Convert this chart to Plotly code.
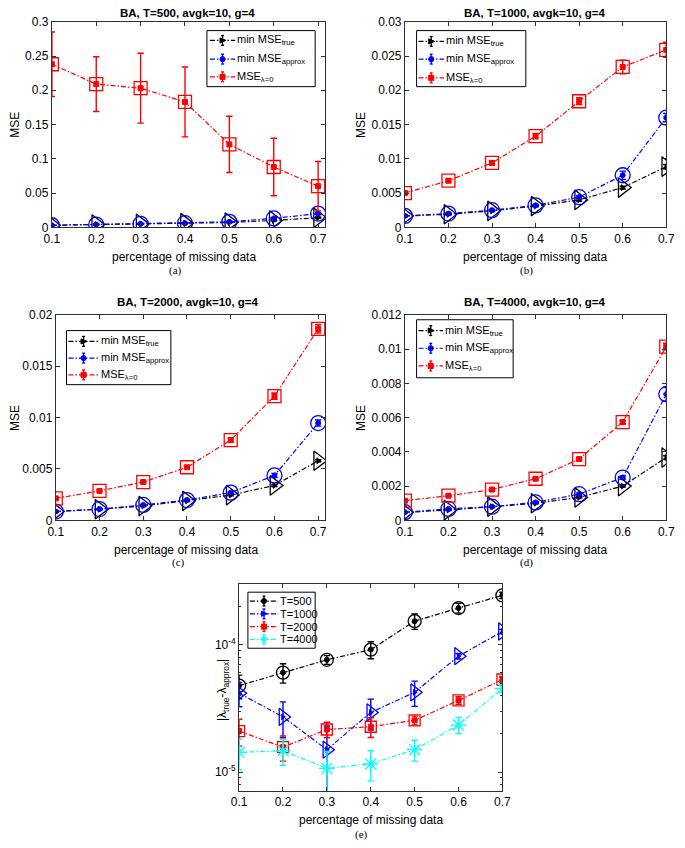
import plotly.graph_objects as go

W, H = 685, 848

x_vals = [0.1, 0.2, 0.3, 0.4, 0.5, 0.6, 0.7]
x_ticktext = ["0.1", "0.2", "0.3", "0.4", "0.5", "0.6", "0.7"]

# (a) T=500
a_true = [0.003, 0.004, 0.005, 0.006, 0.007, 0.010, 0.014]
a_true_err = [0.0004, 0.0004, 0.0005, 0.0005, 0.0006, 0.0008, 0.0010]
a_approx = [0.003, 0.004, 0.005, 0.006, 0.008, 0.013, 0.020]
a_approx_err = [0.0004, 0.0004, 0.0005, 0.0006, 0.0008, 0.0010, 0.0015]
a_l0 = [0.238, 0.209, 0.203, 0.183, 0.121, 0.088, 0.060]
a_l0_err = [0.047, 0.040, 0.051, 0.051, 0.041, 0.042, 0.036]
a_yticks = [0, 0.05, 0.1, 0.15, 0.2, 0.25, 0.3]

# (b) T=1000
b_true = [0.00165, 0.0019, 0.0024, 0.0031, 0.0040, 0.0058, 0.00885]
b_true_err = [0.0001, 0.0001, 0.0001, 0.0001, 0.0002, 0.0002, 0.0003]
b_approx = [0.00167, 0.0020, 0.0025, 0.0032, 0.0044, 0.0076, 0.0160]
b_approx_err = [0.0001, 0.0001, 0.0001, 0.0001, 0.0002, 0.0006, 0.0006]
b_l0 = [0.0050, 0.0068, 0.0094, 0.0133, 0.0184, 0.0234, 0.0259]
b_l0_err = [0.0002, 0.0002, 0.0003, 0.0004, 0.0005, 0.0010, 0.0011]
b_yticks = [0, 0.005, 0.01, 0.015, 0.02, 0.025, 0.03]

# (c) T=2000
c_true = [0.00086, 0.00108, 0.0014, 0.0019, 0.00246, 0.0034, 0.0058]
c_true_err = [0.00004, 0.00004, 0.00005, 0.00006, 0.00008, 0.0001, 0.0001]
c_approx = [0.00086, 0.0011, 0.0015, 0.00198, 0.0027, 0.00437, 0.00947]
c_approx_err = [0.00005, 0.00005, 0.00005, 0.00008, 0.0001, 0.0002, 0.0003]
c_l0 = [0.00214, 0.00287, 0.00373, 0.00517, 0.00781, 0.01209, 0.01863]
c_l0_err = [0.0001, 0.0001, 0.0001, 0.0001, 0.0002, 0.0003, 0.0004]
c_yticks = [0, 0.005, 0.01, 0.015, 0.02]

# (d) T=4000
d_true = [0.00047, 0.0006, 0.0008, 0.0010, 0.00134, 0.0020, 0.00367]
d_true_err = [0.00002, 0.00002, 0.00003, 0.00003, 0.00004, 0.00005, 0.0001]
d_approx = [0.00048, 0.00067, 0.0008, 0.00105, 0.00153, 0.0025, 0.00737]
d_approx_err = [0.00002, 0.00003, 0.00003, 0.00004, 0.00006, 0.0001, 0.0004]
d_l0 = [0.00115, 0.00144, 0.0018, 0.00243, 0.00358, 0.00574, 0.01014]
d_l0_err = [0.00004, 0.00005, 0.00005, 0.00006, 0.00008, 0.0001, 0.0002]
d_yticks = [0, 0.002, 0.004, 0.006, 0.008, 0.01, 0.012]

# (e) |lambda_true - lambda_approx|
e_500 = [4.77e-5, 6.04e-5, 7.61e-5, 9.15e-5, 1.53e-4, 1.94e-4, 2.44e-4]
e_500_err = [1.0e-5, 1.05e-5, 6e-6, 1.4e-5, 2.1e-5, 1.7e-5, 1.4e-5]
e_1000 = [4.16e-5, 2.71e-5, 1.50e-5, 2.94e-5, 4.23e-5, 8.13e-5, 1.27e-4]
e_1000_err = [9e-6, 8.5e-6, 8e-6, 8e-6, 9.5e-6, 4e-6, 5e-6]
e_2000 = [2.10e-5, 1.57e-5, 2.16e-5, 2.27e-5, 2.55e-5, 3.65e-5, 5.33e-5]
e_2000_err = [5e-6, 3.5e-6, 3e-6, 4e-6, 2e-6, 2.5e-6, 3e-6]
e_4000 = [1.43e-5, 1.47e-5, 1.07e-5, 1.16e-5, 1.50e-5, 2.34e-5, 4.54e-5]
e_4000_err = [3.9e-6, 3.4e-6, 3.8e-6, 3.1e-6, 2.8e-6, 3.4e-6, 3e-6]
e_yticks = [1e-5, 1e-4]
e_yticktext = ["10<sup>-5</sup>", "10<sup>-4</sup>"]
e_minor = [m * 10 ** p for p in (-6, -5, -4) for m in range(2, 10)]

mse_names = ["min MSE<sub>true</sub>", "min MSE<sub>approx</sub>", "MSE<sub>λ=0</sub>"]
e_names = ["T=500", "T=1000", "T=2000", "T=4000"]

SANS = "Liberation Sans, Arial, sans-serif"
SERIF = "Liberation Serif, Times New Roman, serif"
AXC = "#303030"
DASH = "5px,2px,1.5px,2px"
BLACK, BLUE, RED, CYAN = "#000000", "#0000FF", "#FF0000", "#00FFFF"

fig = go.Figure()


def px_x(p):
    return p / W


def px_y(p):
    return 1 - p / H


def add_series(idx, y, err, color, small_sym, big_sym, big_size, name):
    xa = "x" if idx == 1 else f"x{idx}"
    ya = "y" if idx == 1 else f"y{idx}"
    fig.add_trace(go.Scatter(
        x=x_vals, y=y, xaxis=xa, yaxis=ya, mode="lines+markers", name=name,
        showlegend=False,
        line=dict(color=color, width=1.2, dash=DASH),
        marker=dict(symbol=small_sym, size=5, color=color,
                    line=dict(color=color, width=1)),
        error_y=dict(type="data", array=err, visible=True, color=color,
                     thickness=1.4, width=3.2),
    ))
    fig.add_trace(go.Scatter(
        x=x_vals, y=y, xaxis=xa, yaxis=ya, mode="markers", showlegend=False,
        marker=dict(symbol=big_sym, size=big_size, color=color,
                    line=dict(color=color, width=1.3)),
        hoverinfo="skip",
    ))


panels = [
    (1, a_true, a_true_err, a_approx, a_approx_err, a_l0, a_l0_err),
    (2, b_true, b_true_err, b_approx, b_approx_err, b_l0, b_l0_err),
    (3, c_true, c_true_err, c_approx, c_approx_err, c_l0, c_l0_err),
    (4, d_true, d_true_err, d_approx, d_approx_err, d_l0, d_l0_err),
]
for idx, yt, et, ya_, ea, yl, el in panels:
    add_series(idx, yt, et, BLACK, "triangle-right", "triangle-right-open", 17, mse_names[0])
    add_series(idx, ya_, ea, BLUE, "circle", "circle-open", 15, mse_names[1])
    add_series(idx, yl, el, RED, "square", "square-open", 13, mse_names[2])

add_series(5, e_500, e_500_err, BLACK, "circle", "circle-open", 13, e_names[0])
add_series(5, e_1000, e_1000_err, BLUE, "triangle-right", "triangle-right-open", 15, e_names[1])
add_series(5, e_2000, e_2000_err, RED, "square", "square-open", 11, e_names[2])
add_series(5, e_4000, e_4000_err, CYAN, "asterisk-open", "asterisk-open", 13, e_names[3])

# axis pixel boxes: (left, right, top, bottom)
boxes = {
    1: (45, 325, 15, 224),
    2: (407, 675, 15, 224),
    3: (49, 325, 313, 522),
    4: (407, 675, 313, 522),
    5: (237, 507, 587, 797),
}
xranges = {1: [0.1, 0.7154], 2: [0.1, 0.7], 3: [0.1, 0.7154], 4: [0.1, 0.7], 5: [0.1, 0.7]}
yinfo = {
    1: ([0, 0.3], a_yticks),
    2: ([0, 0.03], b_yticks),
    3: ([0, 0.02], c_yticks),
    4: ([0, 0.012], d_yticks),
}

layout = {}
for idx, (l, r, t, b) in boxes.items():
    xk = "xaxis" if idx == 1 else f"xaxis{idx}"
    yk = "yaxis" if idx == 1 else f"yaxis{idx}"
    ya_name = "y" if idx == 1 else f"y{idx}"
    xa_name = "x" if idx == 1 else f"x{idx}"
    common = dict(showline=True, linecolor=AXC, linewidth=1, mirror="ticks",
                  ticks="inside", ticklen=4, tickcolor=AXC, showgrid=False,
                  zeroline=False, tickfont=dict(family=SANS, size=12, color="#000"))
    layout[xk] = dict(domain=[px_x(l), px_x(r)], range=xranges[idx], anchor=ya_name,
                      tickvals=x_vals, ticktext=x_ticktext, **common)
    if idx in yinfo:
        rng, tv = yinfo[idx]
        layout[yk] = dict(domain=[px_y(b), px_y(t)], range=rng, anchor=xa_name,
                          tickvals=tv, ticktext=[f"{v:g}" for v in tv], **common)
    else:
        layout[yk] = dict(domain=[px_y(b), px_y(t)], type="log",
                          range=[-5.147, -3.526], anchor=xa_name,
                          tickvals=e_yticks, ticktext=e_yticktext,
                          minor=dict(tickvals=e_minor, ticks="inside", ticklen=2,
                                     tickcolor=AXC),
                          **common)

annotations = []
shapes = []


def ann(text, xp, yp, size=12, family=SANS, angle=0, xanchor="center"):
    annotations.append(dict(text=text, x=px_x(xp), y=px_y(yp), xref="paper", yref="paper",
                            xanchor=xanchor, yanchor="middle", showarrow=False,
                            textangle=angle, font=dict(family=family, size=size, color="#000")))


def pline(x0, y0, x1, y1, color, width=1.2, dash=None):
    ln = dict(color=color, width=width)
    if dash:
        ln["dash"] = dash
    shapes.append(dict(type="line", xref="paper", yref="paper",
                       x0=px_x(x0), y0=px_y(y0), x1=px_x(x1), y1=px_y(y1), line=ln))


def glyph(kind, cx, cy, color, r=2.6):
    if kind == "circle":
        shapes.append(dict(type="circle", xref="paper", yref="paper",
                           x0=px_x(cx - r), x1=px_x(cx + r), y0=px_y(cy + r), y1=px_y(cy - r),
                           fillcolor=color, line=dict(color=color, width=1)))
    elif kind == "square":
        shapes.append(dict(type="rect", xref="paper", yref="paper",
                           x0=px_x(cx - r), x1=px_x(cx + r), y0=px_y(cy + r), y1=px_y(cy - r),
                           fillcolor=color, line=dict(color=color, width=1)))
    elif kind == "tri":
        path = (f"M {px_x(cx - r)} {px_y(cy - r)} L {px_x(cx + r + 1)} {px_y(cy)} "
                f"L {px_x(cx - r)} {px_y(cy + r)} Z")
        shapes.append(dict(type="path", xref="paper", yref="paper", path=path,
                           fillcolor=color, line=dict(color=color, width=1)))
    elif kind == "star":
        pline(cx - r - 1, cy, cx + r + 1, cy, color, 1.2)
        pline(cx, cy - r - 1, cx, cy + r + 1, color, 1.2)
        pline(cx - r, cy - r, cx + r, cy + r, color, 1.2)
        pline(cx - r, cy + r, cx + r, cy - r, color, 1.2)


def draw_legend(box, rows, sx0, sx1, tx, items):
    x0, y0, x1, y1 = box
    shapes.append(dict(type="rect", xref="paper", yref="paper",
                       x0=px_x(x0), x1=px_x(x1), y0=px_y(y1), y1=px_y(y0),
                       fillcolor="white", line=dict(color="#000", width=1)))
    mx = (sx0 + sx1) / 2
    for cy, (name, color, kind) in zip(rows, items):
        pline(sx0, cy, sx1, cy, color, 1.2, DASH)
        pline(mx, cy - 5, mx, cy + 5, color, 1.3)
        pline(mx - 1.5, cy - 5, mx + 1.5, cy - 5, color, 1.3)
        pline(mx - 1.5, cy + 5, mx + 1.5, cy + 5, color, 1.3)
        glyph(kind, mx, cy, color)
        ann(name, tx, cy, size=11, xanchor="left")


mse_items = list(zip(mse_names, [BLACK, BLUE, RED], ["tri", "circle", "square"]))
e_items = list(zip(e_names, [BLACK, BLUE, RED, CYAN], ["circle", "tri", "square", "star"]))

draw_legend((204, 24, 315, 81), [34, 53, 71], 207, 233, 233, mse_items)
draw_legend((419, 24, 531, 81), [35, 53, 72], 421, 447, 447, mse_items)
draw_legend((60, 329, 167, 384), [340, 357, 374], 62, 93, 93, mse_items)
draw_legend((419, 318, 518, 377), [329, 347, 365], 421, 446, 446, mse_items)
draw_legend((246, 595, 315, 652), [604, 617, 630, 643], 248, 277, 277, e_items)

# titles
ann("<b>BA, T=500, avgk=10, g=4</b>", 184, 6, size=11.5)
ann("<b>BA, T=1000, avgk=10, g=4</b>", 540, 6, size=11.5)
ann("<b>BA, T=2000, avgk=10, g=4</b>", 185, 300, size=11.5)
ann("<b>BA, T=4000, avgk=10, g=4</b>", 540, 300, size=11.5)
# x titles
ann("percentage of missing data", 180, 254)
ann("percentage of missing data", 540, 254)
ann("percentage of missing data", 183, 552)
ann("percentage of missing data", 540, 552)
ann("percentage of missing data", 372, 827)
# panel labels
ann("(a)", 172, 268, size=11, family=SERIF)
ann("(b)", 532, 268, size=11, family=SERIF)
ann("(c)", 175, 565, size=11, family=SERIF)
ann("(d)", 532, 565, size=11, family=SERIF)
ann("(e)", 363, 841, size=11, family=SERIF)
# y titles
ann("MSE", 7, 120, angle=-90)
ann("MSE", 362, 120, angle=-90)
ann("MSE", 7, 418, angle=-90)
ann("MSE", 362, 418, angle=-90)
ann("|λ<sub>true</sub>-λ<sub>approx</sub>|", 220, 695, angle=-90)

fig.update_layout(
    width=W, height=H,
    margin=dict(l=0, r=0, t=0, b=0),
    paper_bgcolor="white", plot_bgcolor="white",
    font=dict(family=SANS, size=12, color="#000"),
    showlegend=False,
    annotations=annotations,
    shapes=shapes,
    **layout,
)

fig.write_html("out.html",
               config={"displayModeBar": False},
               post_script="document.body.style.margin='0';document.body.style.overflow='hidden';")
